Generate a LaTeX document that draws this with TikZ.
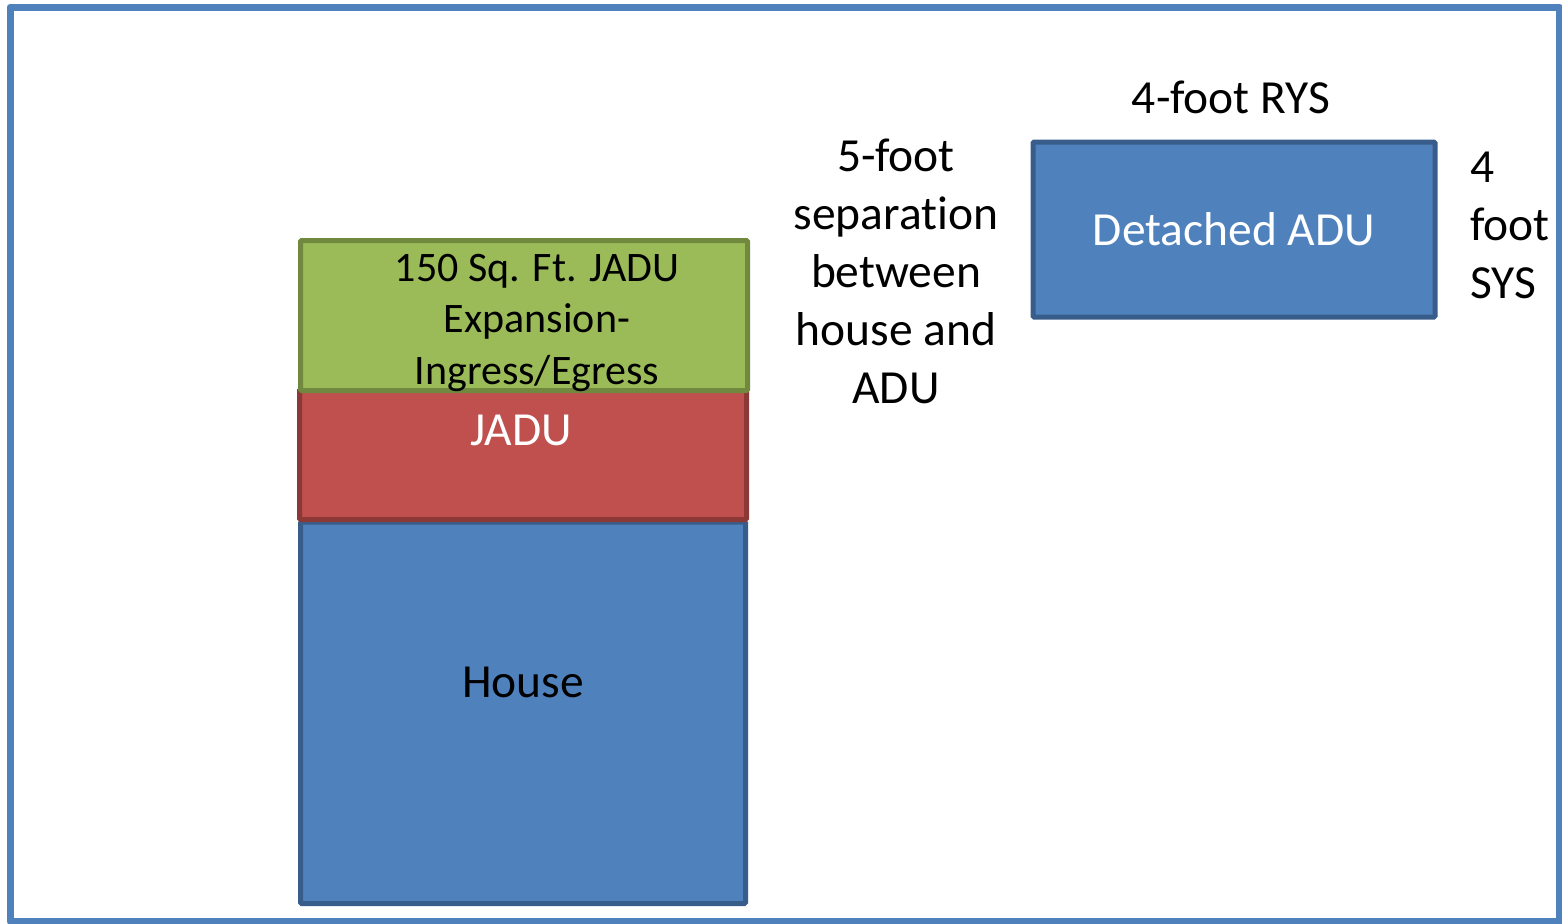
\documentclass[tikz,border=0pt]{standalone}
\usepackage{fontspec}
\setmainfont{Carlito}[Ligatures=NoCommon]
\definecolor{bluefill}{HTML}{4F81BD}
\definecolor{blueline}{HTML}{385D8A}
\definecolor{redfill}{HTML}{C0504D}
\definecolor{redline}{HTML}{8C3836}
\definecolor{greenfill}{HTML}{9BBB59}
\definecolor{greenline}{HTML}{71893F}
\begin{document}
\begin{tikzpicture}[x=0.5pt,y=-0.5pt,
  box/.style={draw, line width=2.5pt, rounded corners=0.6pt, inner sep=0pt, outer sep=0pt},
  big/.style={font=\fontsize{23.75}{29}\selectfont},
  small/.style={font=\fontsize{21}{25.75}\selectfont},
  txt/.style={inner sep=0pt, outer sep=0pt}]
\useasboundingbox (0,0) rectangle (1562,923);
\draw[bluefill, line width=3.5pt, line join=round] (10,7) rectangle (1559,921);
% house stack
\node[box, fill=bluefill, draw=blueline, minimum width=445*0.5pt, minimum height=381.5*0.5pt] (house) at (523,712.75) {};
\node[box, fill=redfill, draw=redline, minimum width=447*0.5pt, minimum height=130*0.5pt] (jadu) at (523,454.5) {};
\node[box, fill=greenfill, draw=greenline, minimum width=447*0.5pt, minimum height=150*0.5pt] (exp) at (524,315.5) {};
\node[txt, big, anchor=base] (houselbl) at (523,697) {House};
\node[txt, big, anchor=base, text=white] (jadulbl) at (521,445) {JADU};
\node[txt, small, align=center] (explbl) at (537,322.75) {150 Sq. Ft. JADU\\Expansion-\\Ingress/Egress};
% detached ADU
\node[box, fill=bluefill, draw=blueline, minimum width=402*0.5pt, minimum height=175*0.5pt, big, text=white] (adu) at (1234,229.5) {Detached ADU};
\node[txt, big, anchor=base] (rys) at (1231,113) {4-foot RYS};
\node[txt, big, align=left, anchor=west] (sys) at (1470,225.5) {4\\foot\\SYS};
\node[txt, big, align=center] (sep) at (896,271.5) {5-foot\\separation\\between\\house and\\ADU};
\end{tikzpicture}
\end{document}
